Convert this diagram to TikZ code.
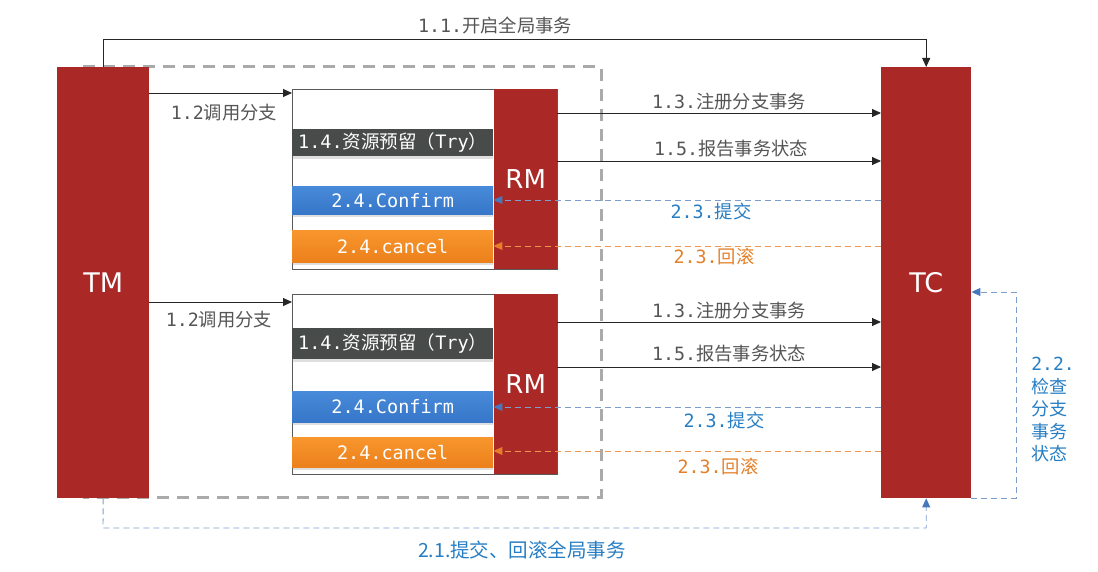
\documentclass[tikz,border=0pt]{standalone}
\usepackage{fontspec}
\setmainfont{DejaVu Sans Mono}
\newfontfamily\cjk{Noto Sans CJK SC}
\newfontfamily\sansf{DejaVu Sans}
\newcommand\zh[1]{{\cjk #1}}
\usetikzlibrary{arrows.meta,shadows}
\definecolor{tred}{RGB}{170,40,38}
\definecolor{trygray}{RGB}{71,75,74}
\definecolor{cfblue}{RGB}{55,118,200}
\definecolor{cfbluetop}{RGB}{72,138,218}
\definecolor{cforange}{RGB}{236,128,28}
\definecolor{cforangetop}{RGB}{248,150,45}
\definecolor{lblgray}{RGB}{85,85,85}
\definecolor{txtblue}{RGB}{38,125,195}
\definecolor{txtorange}{RGB}{228,128,40}
\definecolor{lnblue}{RGB}{125,158,205}
\definecolor{lnorange}{RGB}{236,150,80}
\definecolor{tipblue}{RGB}{70,120,190}
\definecolor{tiporange}{RGB}{230,125,40}
\definecolor{dashgray}{RGB}{170,170,170}
\definecolor{framegray}{RGB}{90,90,90}
\begin{document}
\begin{tikzpicture}[x=1pt,y=-1pt,
  redbox/.style={fill=tred, draw=none, text=white, inner sep=0pt, anchor=north west,
    font=\sansf\fontsize{27}{30}\selectfont},
  rmbox/.style={redbox, font=\sansf\fontsize{26}{30}\selectfont},
  branchbox/.style={draw=framegray, line width=1.2pt, fill=white, inner sep=0pt, anchor=north west,
    minimum width=265, minimum height=180},
  barbox/.style={inner sep=0pt, anchor=north west, minimum width=201, text=white,
    font=\fontsize{18.5}{20}\selectfont,
    drop shadow={opacity=0.25, shadow xshift=0pt, shadow yshift=-2.5pt}},
  trybar/.style={barbox, fill=trygray},
  cfbar/.style={barbox, top color=cfbluetop, bottom color=cfblue},
  cnbar/.style={barbox, top color=cforangetop, bottom color=cforange},
  lbl/.style={text=lblgray, inner sep=0pt, font=\fontsize{18.3}{20}\selectfont},
  lblblue/.style={lbl, text=txtblue},
  lblorange/.style={lbl, text=txtorange},
  blk/.style={draw=black!85, line width=0.9pt, -{Triangle[length=9pt,width=8pt]}},
  bdash/.style={draw=lnblue, line width=0.9pt, dash pattern=on 6pt off 4pt,
    -{Triangle[length=9pt,width=8pt,color=tipblue,fill=tipblue]}},
  odash/.style={draw=lnorange, line width=0.9pt, dash pattern=on 6pt off 4pt,
    -{Triangle[length=9pt,width=8pt,color=tiporange,fill=tiporange]}}
]
\useasboundingbox (0,0) rectangle (1098,572);

% grey dashed frame (behind everything)
\draw[dashgray, line width=3pt, dash pattern=on 12pt off 8pt] (83,67) -- (601,67) -- (601,497) -- (83,497);

% TM and TC
\node[redbox, minimum width=92, minimum height=431] (TM) at (57,67) {TM};
\node[redbox, minimum width=90, minimum height=431] (TC) at (881,67) {TC};

% upper branch
\node[branchbox] (box1) at (292,89) {};
\node[rmbox, minimum width=63, minimum height=180] (RM1) at (494,89) {RM};
\node[trybar, minimum height=27] (try1) at (292,129) {1.4.\zh{资源预留（}Try\zh{）}};
\node[cfbar, minimum height=28] (cf1) at (292,186) {2.4.Confirm};
\node[cnbar, minimum height=32] (cn1) at (292,230) {2.4.cancel};

% lower branch
\node[branchbox, minimum height=180] (box2) at (292,294) {};
\node[rmbox, minimum width=63, minimum height=180] (RM2) at (494,294) {RM};
\node[trybar, minimum height=31] (try2) at (292,328) {1.4.\zh{资源预留（}Try\zh{）}};
\node[cfbar, minimum height=31] (cf2) at (292,391) {2.4.Confirm};
\node[cnbar, minimum height=30] (cn2) at (292,437) {2.4.cancel};

% 1.1
\draw[blk] (TM.north) -- (TM.north |- 0,39) -| (TC.north);
\node[lbl] (l11) at (495,25) {1.1.\zh{开启全局事务}};

% 1.2 calls
\draw[blk] (TM.east |- 0,93) -- (box1.west |- 0,93);
\node[lbl] (l12a) at (224,113) {1.2\zh{调用分支}};
\draw[blk] (TM.east |- 0,302) -- (box2.west |- 0,302);
\node[lbl] (l12b) at (219,320) {1.2\zh{调用分支}};

% upper RM <-> TC
\draw[blk] (RM1.east |- 0,113) -- (TC.west |- 0,113);
\node[lbl] (l13a) at (729,102) {1.3.\zh{注册分支事务}};
\draw[blk] (RM1.east |- 0,161) -- (TC.west |- 0,161);
\node[lbl] (l15a) at (731,149) {1.5.\zh{报告事务状态}};
\draw[bdash] (TC.west |- 0,200) -- (cf1.east |- 0,200);
\node[lblblue] (l23a) at (711,211) {2.3.\zh{提交}};
\draw[odash] (TC.west |- 0,246) -- (cn1.east |- 0,246);
\node[lblorange] (l23b) at (714,257) {2.3.\zh{回滚}};

% lower RM <-> TC
\draw[blk] (RM2.east |- 0,322) -- (TC.west |- 0,322);
\node[lbl] (l13b) at (729,311) {1.3.\zh{注册分支事务}};
\draw[blk] (RM2.east |- 0,367) -- (TC.west |- 0,367);
\node[lbl] (l15b) at (729,354) {1.5.\zh{报告事务状态}};
\draw[bdash] (TC.west |- 0,407) -- (cf2.east |- 0,407);
\node[lblblue] (l23c) at (724,420) {2.3.\zh{提交}};
\draw[odash] (TC.west |- 0,451) -- (cn2.east |- 0,451);
\node[lblorange] (l23d) at (718,466) {2.3.\zh{回滚}};

% 2.2 check
\coordinate (r22) at (1016,292);
\draw[bdash] (TC.south east) -| (r22) -- (TC.east |- r22);
\node[lblblue, align=left, font=\fontsize{18}{22.5}\selectfont] (l22) at (1053,410)
  {2.2.\\\zh{检查}\\\zh{分支}\\\zh{事务}\\\zh{状态}};

% 2.1 commit / rollback global
\coordinate (b21) at (103,528);
\draw[bdash] (TM.south) -- (b21) -| (TC.south);
\node[lblblue, font=\cjk\fontsize{19.5}{22}\selectfont] (l21) at (522,550) {2.1.提交、回滚全局事务};
\end{tikzpicture}
\end{document}
